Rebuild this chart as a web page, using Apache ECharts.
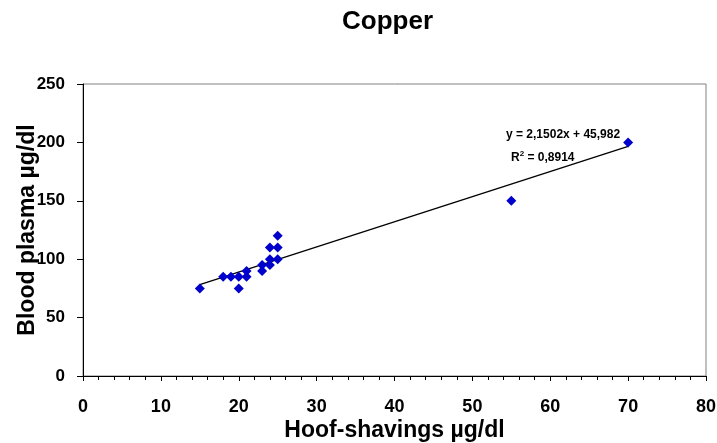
<!DOCTYPE html>
<html><head><meta charset="utf-8">
<script src="https://cdn.jsdelivr.net/npm/echarts@6/dist/echarts.min.js"></script>
<style>html,body{margin:0;padding:0;background:#fff}#c{width:717px;height:443px}</style>
</head><body><div id="c"></div>
<script>
const hoof = [15,18,19,20,20,21,21,23,23,24,24,24,25,25,25,55,70];
const plasma = [75,85,85,85,75,85,90,90,95,95,100,110,100,110,120,150,200];
const trendSlope = 2.1502;
const trendIntercept = 45.982;
const trendRange = [15,70];
const xTicks = [0,10,20,30,40,50,60,70,80];
const yTicks = [0,50,100,150,200,250];

const pts = hoof.map((x,i)=>[x,plasma[i]]);
const trend = trendRange.map(x=>[x, trendSlope*x+trendIntercept]);
const F = 'Liberation Sans, Arial, sans-serif';
const chart = echarts.init(document.getElementById('c'));
chart.setOption({
  animation:false,
  title:{text:'Copper',left:337,top:4,textStyle:{fontFamily:F,fontSize:26,fontWeight:'bold',color:'#000'}},
  grid:{left:83,right:11,top:84,bottom:67,show:true,borderColor:'#808080',borderWidth:1,containLabel:false,outerBoundsMode:'none'},
  xAxis:{type:'value',min:xTicks[0],max:xTicks[xTicks.length-1],interval:10,
    name:'Hoof-shavings µg/dl',nameLocation:'middle',nameGap:43,nameMoveOverlap:false,
    nameTextStyle:{fontFamily:F,fontSize:23,fontWeight:'bold',color:'#000'},
    axisLine:{show:true,lineStyle:{color:'#000',width:1}},
    axisTick:{show:true,inside:false,length:5,lineStyle:{color:'#000'}},
    minorTick:{show:true,splitNumber:5,length:4,lineStyle:{color:'#000'}},
    splitLine:{show:false},
    axisLabel:{fontFamily:F,fontSize:18,fontWeight:'bold',color:'#000',margin:22}},
  yAxis:{type:'value',min:yTicks[0],max:yTicks[yTicks.length-1],interval:50,
    name:'Blood plasma µg/dl',nameLocation:'middle',nameGap:44,nameMoveOverlap:false,
    nameTextStyle:{fontFamily:F,fontSize:23,fontWeight:'bold',color:'#000'},
    axisLine:{show:true,lineStyle:{color:'#000',width:1}},
    axisTick:{show:true,inside:false,length:6,lineStyle:{color:'#000'}},
    splitLine:{show:false},
    axisLabel:{fontFamily:F,fontSize:17,fontWeight:'bold',color:'#000',margin:18}},
  series:[
    {type:'line',data:trend,symbol:'none',lineStyle:{color:'#000',width:1.3},z:2},
    {type:'scatter',data:pts,symbol:'diamond',symbolSize:10,itemStyle:{color:'#0000CC',opacity:1},z:3}
  ],
  graphic:[
    {type:'text',left:506,top:129,style:{text:'y = 2,1502x + 45,982',font:'bold 12px '+F,fill:'#000'}},
    {type:'text',left:511,top:150,style:{text:'{a|R}{s|2}{a| = 0,8914}',rich:{a:{font:'bold 12px '+F,fill:'#000',verticalAlign:'bottom'},s:{font:'bold 8px '+F,fill:'#000',verticalAlign:'top',padding:[0,0,6,0]}}}}
  ]
});
</script></body></html>
